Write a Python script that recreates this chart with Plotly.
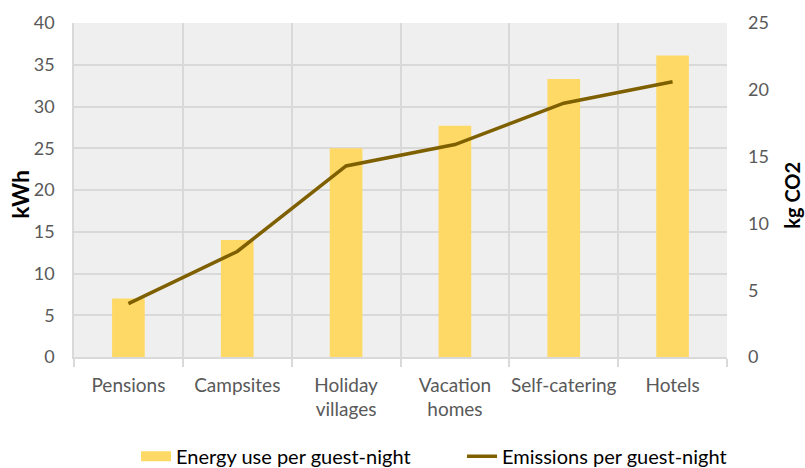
import plotly.graph_objects as go

# data
categories = ["Pensions", "Campsites", "Holiday<br>villages", "Vacation<br>homes", "Self-catering", "Hotels"]
energy_kwh = [7.0, 14.0, 25.0, 27.7, 33.3, 36.1]
emissions_kg = [4.0, 7.9, 14.3, 15.9, 19.0, 20.6]

FONT = "Lato"
GRID = "#d9d9d9"
TICK = "#595959"
BAR = "#ffd966"

fig = go.Figure()

fig.add_trace(go.Bar(
    x=categories, y=energy_kwh,
    name="Energy use per guest-night",
    marker=dict(color=BAR, line=dict(width=0)),
    width=0.3,
    showlegend=False,
))

# legend-only entry so the swatch is a wide block like the original
fig.add_trace(go.Scatter(
    x=[None], y=[None],
    name="Energy use per guest-night",
    mode="lines",
    line=dict(color=BAR, width=16),
))

fig.add_trace(go.Scatter(
    x=categories, y=emissions_kg,
    name="Emissions per guest-night",
    mode="lines",
    line=dict(color="#7f6000", width=3.5),
    yaxis="y2",
))

fig.update_layout(
    width=805, height=468,
    margin=dict(l=74, r=78, t=23, b=111),
    paper_bgcolor="white",
    plot_bgcolor="#efefef",
    font=dict(family=FONT, size=18, color=TICK),
    showlegend=True,
    legend=dict(
        orientation="h", x=0.095, xanchor="left",
        yref="container", y=0.025, yanchor="middle",
        font=dict(size=20, color="black"),
        entrywidth=281, entrywidthmode="pixels",
        traceorder="normal",
    ),
    xaxis=dict(
        type="category",
        tickson="boundaries",
        automargin=False,
        tickangle=0,
        showgrid=True, gridcolor=GRID, gridwidth=1.5,
        ticks="outside", ticklen=8, tickcolor=GRID, tickwidth=1.5,
        showline=True, linecolor=GRID, linewidth=1.5,
        tickfont=dict(size=19, color=TICK),
        ticklabelstandoff=10,
        range=[-0.5, 5.5],
    ),
    yaxis=dict(
        range=[0, 40], dtick=5,
        automargin=False,
        showgrid=True, gridcolor=GRID, gridwidth=1.5,
        zeroline=False,
        showline=True, linecolor=GRID, linewidth=1.5,
        tickfont=dict(size=18, color=TICK),
        ticklabelstandoff=14,
    ),
    yaxis2=dict(
        overlaying="y", side="right",
        range=[0, 25], dtick=5,
        automargin=False,
        showgrid=False, zeroline=False,
        tickfont=dict(size=18, color=TICK),
        ticklabelstandoff=20,
    ),
    annotations=[
        dict(text="<b>kWh</b>", xref="paper", yref="paper", x=-0.083, y=0.488,
             xanchor="center", yanchor="middle",
             textangle=-90, showarrow=False, font=dict(size=23, color="black")),
        dict(text="<b>kg CO2</b>", xref="paper", yref="paper", x=1.099, y=0.485,
             xanchor="center", yanchor="middle",
             textangle=-90, showarrow=False, font=dict(size=20, color="black")),
    ],
)

# the page body has a default 8px margin; drop it so the figure sits at 0,0
fig.write_html(
    "out.html",
    config={"displayModeBar": False},
    post_script="document.body.style.margin='0';",
)
